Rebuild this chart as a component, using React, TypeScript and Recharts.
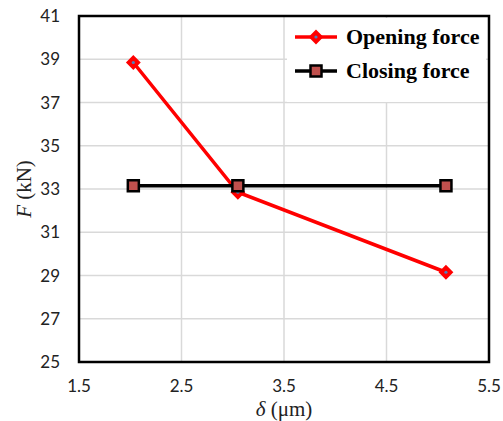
import { CartesianGrid, Legend, Line, LineChart, ReferenceArea, XAxis, YAxis } from 'recharts'

const delta = [2.03, 3.05, 5.08]
const openingForce = [38.85, 32.85, 29.15]
const closingForce = [33.15, 33.15, 33.15]
const xTicks = [1.5, 2.5, 3.5, 4.5, 5.5]
const yTicks = [25, 27, 29, 31, 33, 35, 37, 39, 41]

const data = delta.map((d, i) => ({ d, open: openingForce[i], close: closingForce[i] }))

const RED = '#ff0000'
const SQ_FILL = '#c0504d'
const tickStyle = { fontFamily: 'Lato', fontSize: 17, fill: '#222' }

function Diamond({ cx, cy }: { cx?: number; cy?: number }) {
  if (cx == null || cy == null) return null
  const r = 6
  return (
    <g>
      <polygon
        points={`${cx},${cy - r} ${cx + r},${cy} ${cx},${cy + r} ${cx - r},${cy}`}
        fill={RED}
        stroke={RED}
        strokeWidth={2}
      />
      <circle cx={cx} cy={cy} r={1.6} fill="#4f81bd" />
    </g>
  )
}

function Square({ cx, cy }: { cx?: number; cy?: number }) {
  if (cx == null || cy == null) return null
  return <rect x={cx - 5.5} y={cy - 5.5} width={11} height={11} fill={SQ_FILL} stroke="#000" strokeWidth={2.5} />
}

// legend sits inside the plot, on a white box that hides the grid behind it
function LegendBox() {
  const items = [
    { label: 'Opening force', color: RED, Mark: Diamond },
    { label: 'Closing force', color: '#000', Mark: Square },
  ]
  return (
    <svg width={199} height={84} style={{ display: 'block' }}>
      <rect x={0} y={0} width={199} height={84} fill="#fff" />
      {items.map((it, i) => {
        const y = 19 + i * 34
        return (
          <g key={it.label}>
            <line x1={8} x2={50} y1={y} y2={y} stroke={it.color} strokeWidth={3.5} />
            <it.Mark cx={29} cy={y} />
            <text x={59} y={y + 7} fontFamily="Liberation Serif" fontWeight="bold" fontSize={22} fill="#000">
              {it.label}
            </text>
          </g>
        )
      })}
    </svg>
  )
}

export default function App() {
  return (
    <div style={{ position: 'absolute', left: 0, top: 0, width: 503, height: 421, background: '#fff' }}>
      <LineChart width={503} height={421} data={data} margin={{ top: 16, right: 14, left: 0, bottom: 0 }}>
        <CartesianGrid stroke="#d9d9d9" strokeWidth={1.5} />
        <XAxis
          dataKey="d"
          type="number"
          domain={[1.5, 5.5]}
          ticks={xTicks}
          height={59}
          tickLine={false}
          axisLine={false}
          tickSize={0}
          tickMargin={18}
          tick={tickStyle}
          label={({ viewBox }: any) => (
            <text
              x={viewBox.x + viewBox.width / 2}
              y={viewBox.y + 54}
              textAnchor="middle"
              fontFamily="Liberation Serif"
              fontSize={21}
              fill="#222"
            >
              <tspan fontStyle="italic">δ</tspan> (μm)
            </text>
          )}
        />
        <YAxis
          type="number"
          domain={[25, 41]}
          ticks={yTicks}
          width={79}
          tickLine={false}
          axisLine={false}
          tickSize={0}
          tickMargin={19}
          tick={tickStyle}
          label={({ viewBox }: any) => {
            const cx = 24
            const cy = viewBox.y + viewBox.height / 2
            return (
              <text
                x={cx}
                y={cy}
                transform={`rotate(-90 ${cx} ${cy})`}
                textAnchor="middle"
                dominantBaseline="central"
                fontFamily="Liberation Serif"
                fontSize={21}
                fill="#222"
              >
                <tspan fontStyle="italic">F</tspan> (kN)
              </text>
            )
          }}
        />
        <Legend
          layout="horizontal"
          verticalAlign="middle"
          align="center"
          wrapperStyle={{ top: 18, left: 287, width: 199, height: 84 }}
          content={() => <LegendBox />}
        />
        <ReferenceArea x1={1.5} x2={5.5} y1={25} y2={41} fill="none" stroke="#000" strokeWidth={2.5} />
        <Line
          dataKey="open"
          stroke={RED}
          strokeWidth={3.5}
          dot={<Diamond />}
          activeDot={false}
          isAnimationActive={false}
        />
        <Line
          dataKey="close"
          stroke="#000"
          strokeWidth={3.5}
          dot={<Square />}
          activeDot={false}
          isAnimationActive={false}
        />
      </LineChart>
    </div>
  )
}
